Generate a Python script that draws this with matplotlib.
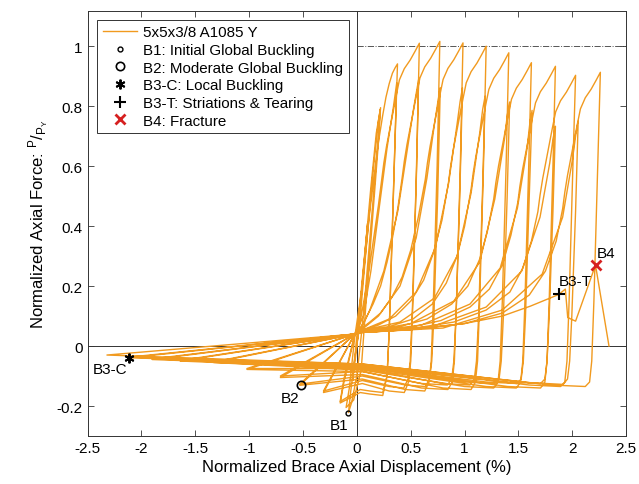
import matplotlib
matplotlib.use("Agg")
import matplotlib.pyplot as plt

# brace hysteresis (displacement %, normalized force)
# one line per half-cycle path: tension reload -> peak, then unload -> compression tip
disp = [
    0.00, 0.10, -0.04, 0.00,
    0.06, 0.13, 0.18, 0.22, 0.20, 0.13, 0.06, 0.00, -0.05, -0.078,
    -0.06, -0.02, 0.02, 0.08, 0.15, 0.20, 0.217, 0.20, 0.14, 0.08, 0.04, -0.03, -0.10,
    # 0.377
    -0.07, -0.02, 0.05, 0.12, 0.20, 0.24, 0.27, 0.30, 0.33, 0.355, 0.377,
    0.36, 0.33, 0.30, 0.28, 0.24, 0.12, 0.03, -0.155,
    -0.12, -0.02, 0.06, 0.13, 0.21, 0.28, 0.34, 0.357, 0.37,
    0.355, 0.33, 0.30, 0.28, 0.24, 0.12, 0.03, -0.155,
    # 0.58
    -0.12, -0.02, 0.03, 0.08, 0.12, 0.16, 0.20,
    0.23, 0.25, 0.275, 0.305, 0.335, 0.365, 0.395, 0.44, 0.495, 0.54, 0.58,
    0.555, 0.52, 0.50, 0.48, 0.44, 0.30, 0.05, -0.31,
    -0.02, 0.03, 0.12, 0.25, 0.38, 0.47, 0.53, 0.555, 0.573,
    0.55, 0.515, 0.495, 0.475, 0.435, 0.30, 0.05, -0.31,
    # 0.77
    -0.02, 0.03, 0.08, 0.15, 0.22, 0.28, 0.33, 0.38,
    0.42, 0.44, 0.465, 0.495, 0.525, 0.555, 0.585, 0.63, 0.685, 0.73, 0.77,
    0.745, 0.71, 0.69, 0.67, 0.63, 0.45, 0.05, -0.53,
    -0.02, 0.03, 0.20, 0.40, 0.55, 0.65, 0.72, 0.752, 0.774,
    0.75, 0.715, 0.695, 0.675, 0.635, 0.45, 0.05, -0.53,
    # 0.985
    -0.02, 0.03, 0.12, 0.22, 0.32, 0.42, 0.50, 0.57,
    0.635, 0.655, 0.68, 0.71, 0.74, 0.77, 0.80, 0.845, 0.90, 0.945, 0.985,
    0.96, 0.925, 0.905, 0.885, 0.845, 0.60, 0.05, -0.71,
    -0.02, 0.03, 0.30, 0.55, 0.73, 0.85, 0.93, 0.958, 0.98,
    0.955, 0.92, 0.90, 0.88, 0.84, 0.60, 0.05, -0.71,
    # 1.2
    -0.02, 0.03, 0.20, 0.36, 0.50, 0.62, 0.71, 0.79,
    0.85, 0.87, 0.895, 0.925, 0.955, 0.985, 1.015, 1.06, 1.115, 1.16, 1.20,
    1.175, 1.14, 1.12, 1.10, 1.06, 0.80, 0.05, -1.02,
    -0.02, 0.03, 0.40, 0.72, 0.93, 1.06, 1.14, 1.168, 1.19,
    1.165, 1.13, 1.11, 1.09, 1.05, 0.80, 0.05, -1.02,
    # 1.41
    -0.02, 0.03, 0.30, 0.52, 0.70, 0.83, 0.93, 1.00,
    1.06, 1.08, 1.105, 1.135, 1.165, 1.195, 1.225, 1.27, 1.325, 1.37, 1.41,
    1.385, 1.35, 1.33, 1.31, 1.27, 1.00, 0.05, -1.33,
    -0.02, 0.03, 0.50, 0.90, 1.14, 1.28, 1.37, 1.396, 1.418,
    1.395, 1.36, 1.34, 1.32, 1.28, 1.00, 0.05, -1.33,
    # 1.62
    -0.02, 0.03, 0.35, 0.65, 0.88, 1.03, 1.14, 1.21,
    1.27, 1.29, 1.315, 1.345, 1.375, 1.405, 1.435, 1.48, 1.535, 1.58, 1.62,
    1.595, 1.56, 1.54, 1.52, 1.48, 1.20, 0.05, -1.64,
    -0.02, 0.03, 0.60, 1.05, 1.33, 1.49, 1.58, 1.605, 1.626,
    1.60, 1.565, 1.545, 1.525, 1.485, 1.20, 0.05, -1.64,
    # 1.84
    -0.02, 0.03, 0.40, 0.78, 1.05, 1.23, 1.35, 1.43,
    1.493, 1.513, 1.538, 1.568, 1.598, 1.628, 1.658, 1.703, 1.758, 1.803, 1.843,
    1.82, 1.785, 1.765, 1.745, 1.705, 1.40, 0.05, -1.90,
    -0.02, 0.03, 0.70, 1.20, 1.53, 1.70, 1.79, 1.82, 1.843,
    1.82, 1.785, 1.765, 1.745, 1.705, 1.40, 0.05, -1.90,
    # 2.03
    -0.02, 0.03, 0.45, 0.90, 1.20, 1.42, 1.54, 1.62,
    1.68, 1.70, 1.725, 1.755, 1.785, 1.815, 1.845, 1.89, 1.945, 1.99, 2.03,
    2.005, 1.97, 1.95, 1.93, 1.89, 1.60, 0.05, -2.115,
    -0.02, 0.03, 0.80, 1.35, 1.72, 1.91, 2.00, 2.032, 2.054,
    2.03, 1.995, 1.975, 1.955, 1.915, 1.60, 0.05, -2.115,
    # 2.26
    -0.02, 0.03, 0.50, 1.00, 1.35, 1.60, 1.75, 1.85,
    1.91, 1.93, 1.955, 1.985, 2.015, 2.045, 2.075, 2.12, 2.175, 2.22, 2.26,
    2.235, 2.20, 2.18, 2.16, 2.12, 1.80, 0.05, -2.32,
    # tearing and fracture
    -0.02, 0.03, 0.50, 1.00, 1.35, 1.61, 1.874, 1.935, 1.957, 2.03, 2.215, 2.34,
]
force = [
    0.00, 0.41, -0.115, 0.00,
    0.25, 0.53, 0.71, 0.795, 0.70, 0.40, 0.10, -0.10, -0.19, -0.222,
    -0.16, -0.04, 0.05, 0.30, 0.58, 0.75, 0.789, 0.68, 0.40, 0.12, -0.08, -0.18, -0.205,
    # 0.377
    -0.14, 0.03, 0.20, 0.45, 0.68, 0.77, 0.83, 0.875, 0.91, 0.928, 0.941,
    0.75, 0.40, 0.05, -0.10, -0.165, -0.16, -0.155, -0.19,
    -0.12, 0.035, 0.10, 0.25, 0.47, 0.66, 0.80, 0.845, 0.878,
    0.70, 0.40, 0.05, -0.10, -0.155, -0.15, -0.145, -0.185,
    # 0.58
    -0.11, 0.04, 0.08, 0.18, 0.27, 0.37, 0.47,
    0.555, 0.61, 0.666, 0.722, 0.777, 0.835, 0.888, 0.925, 0.954, 0.983, 1.01,
    0.60, 0.15, -0.05, -0.12, -0.155, -0.15, -0.125, -0.155,
    0.04, 0.05, 0.12, 0.25, 0.45, 0.66, 0.80, 0.852, 0.889,
    0.55, 0.12, -0.05, -0.11, -0.14, -0.135, -0.115, -0.15,
    # 0.77
    0.04, 0.06, 0.09, 0.14, 0.20, 0.28, 0.36, 0.46,
    0.561, 0.616, 0.672, 0.728, 0.783, 0.841, 0.894, 0.931, 0.96, 0.989, 1.016,
    0.60, 0.15, -0.05, -0.12, -0.15, -0.145, -0.11, -0.131,
    0.04, 0.05, 0.10, 0.20, 0.36, 0.56, 0.74, 0.815, 0.861,
    0.50, 0.10, -0.05, -0.11, -0.135, -0.13, -0.10, -0.127,
    # 0.985
    0.04, 0.055, 0.08, 0.11, 0.16, 0.23, 0.32, 0.43,
    0.556, 0.611, 0.667, 0.723, 0.778, 0.836, 0.889, 0.926, 0.955, 0.984, 1.011,
    0.60, 0.15, -0.05, -0.12, -0.145, -0.14, -0.095, -0.105,
    0.04, 0.05, 0.09, 0.18, 0.33, 0.54, 0.74, 0.815, 0.861,
    0.50, 0.10, -0.05, -0.11, -0.13, -0.125, -0.085, -0.10,
    # 1.2
    0.04, 0.05, 0.07, 0.10, 0.15, 0.22, 0.31, 0.42,
    0.545, 0.60, 0.656, 0.712, 0.767, 0.825, 0.878, 0.915, 0.944, 0.973, 1.00,
    0.60, 0.15, -0.05, -0.12, -0.145, -0.14, -0.085, -0.078,
    0.04, 0.05, 0.08, 0.16, 0.30, 0.51, 0.71, 0.79, 0.833,
    0.50, 0.10, -0.05, -0.11, -0.13, -0.125, -0.075, -0.075,
    # 1.41
    0.04, 0.05, 0.065, 0.09, 0.14, 0.21, 0.30, 0.40,
    0.523, 0.578, 0.634, 0.69, 0.745, 0.803, 0.856, 0.893, 0.922, 0.951, 0.978,
    0.60, 0.15, -0.05, -0.12, -0.14, -0.135, -0.08, -0.055,
    0.04, 0.045, 0.075, 0.15, 0.28, 0.49, 0.69, 0.77, 0.814,
    0.50, 0.10, -0.05, -0.11, -0.125, -0.12, -0.07, -0.053,
    # 1.62
    0.04, 0.05, 0.06, 0.09, 0.14, 0.20, 0.29, 0.38,
    0.49, 0.545, 0.601, 0.657, 0.712, 0.77, 0.823, 0.86, 0.889, 0.918, 0.945,
    0.60, 0.15, -0.05, -0.12, -0.14, -0.135, -0.075, -0.05,
    0.04, 0.045, 0.07, 0.14, 0.26, 0.46, 0.66, 0.742, 0.786,
    0.50, 0.10, -0.05, -0.11, -0.125, -0.12, -0.068, -0.048,
    # 1.84
    0.04, 0.045, 0.055, 0.085, 0.13, 0.19, 0.27, 0.37,
    0.478, 0.533, 0.589, 0.645, 0.70, 0.758, 0.811, 0.848, 0.877, 0.906, 0.933,
    0.60, 0.15, -0.05, -0.12, -0.14, -0.135, -0.07, -0.045,
    0.04, 0.045, 0.065, 0.13, 0.25, 0.43, 0.61, 0.69, 0.733,
    0.45, 0.10, -0.05, -0.11, -0.125, -0.12, -0.065, -0.043,
    # 2.03
    0.04, 0.045, 0.055, 0.08, 0.12, 0.18, 0.26, 0.35,
    0.448, 0.503, 0.559, 0.615, 0.67, 0.728, 0.781, 0.818, 0.847, 0.876, 0.903,
    0.60, 0.15, -0.05, -0.12, -0.135, -0.13, -0.065, -0.039,
    0.04, 0.045, 0.06, 0.12, 0.24, 0.43, 0.62, 0.705, 0.75,
    0.45, 0.10, -0.05, -0.11, -0.128, -0.122, -0.06, -0.037,
    # 2.26
    0.04, 0.045, 0.055, 0.075, 0.11, 0.17, 0.25, 0.35,
    0.458, 0.513, 0.569, 0.625, 0.68, 0.738, 0.791, 0.828, 0.857, 0.886, 0.913,
    0.60, 0.15, -0.05, -0.12, -0.135, -0.13, -0.06, -0.03,
    # tearing and fracture
    0.04, 0.045, 0.055, 0.075, 0.10, 0.133, 0.172, 0.19, 0.095, 0.083, 0.27, 0.00,
]

# damage states
event_names = ["B1: Initial Global Buckling", "B2: Moderate Global Buckling",
               "B3-C: Local Buckling", "B3-T: Striations & Tearing", "B4: Fracture"]
event_tags = ["B1", "B2", "B3-C", "B3-T", "B4"]
event_x = [-0.078, -0.52, -2.115, 1.874, 2.215]
event_y = [-0.222, -0.131, -0.039, 0.172, 0.27]

plt.rcParams.update({"font.family": ["Liberation Sans", "DejaVu Sans"],
                     "mathtext.fontset": "custom",
                     "mathtext.rm": "Liberation Sans",
                     "axes.unicode_minus": False,
                     "xtick.direction": "in", "ytick.direction": "in",
                     "xtick.top": True, "ytick.right": True})

fig = plt.figure(figsize=(6.39, 4.85), dpi=100)
ax = fig.add_axes([0.137, 0.099, 0.843, 0.876])

ORANGE = "#F19A1F"
ax.axhline(0, color="#333333", lw=0.7, zorder=1)
ax.axvline(0, color="#333333", lw=0.7, zorder=1)
ax.plot([0, 2.5], [1, 1], color="#555555", lw=0.7, ls="-.", zorder=1)

ax.plot(disp, force, color=ORANGE, lw=1.0, zorder=2, label="5x5x3/8 A1085 Y")

styles = [dict(marker="o", ms=3.5, mfc="none", mec="black", mew=1.0),
          dict(marker="o", ms=6, mfc="none", mec="black", mew=1.2),
          dict(marker=(6, 2, 0), ms=7, color="black", mew=1.4),
          dict(marker="+", ms=8, color="black", mew=1.5),
          dict(marker="x", ms=7, color="#d62020", mew=2.0)]
for name, x, y, st in zip(event_names, event_x, event_y, styles):
    ax.plot([x], [y], ls="none", zorder=4, label=name, **st)

tag_pos = [(-0.17, -0.264), (-0.62, -0.172), (-2.29, -0.078), (2.03, 0.217), (2.31, 0.311)]
for tag, (tx, ty) in zip(event_tags, tag_pos):
    ax.text(tx, ty, tag, ha="center", va="center", fontsize=11, zorder=5)

ax.set_xlim(-2.5, 2.5)
ax.set_ylim(-0.3, 1.117)
ax.set_xticks([-2.5, -2, -1.5, -1, -0.5, 0, 0.5, 1, 1.5, 2, 2.5])
ax.set_xticklabels(["-2.5", "-2", "-1.5", "-1", "-0.5", "0", "0.5", "1", "1.5", "2", "2.5"])
ax.set_yticks([-0.2, 0, 0.2, 0.4, 0.6, 0.8, 1])
ax.set_yticklabels(["-0.2", "0", "0.2", "0.4", "0.6", "0.8", "1"])
ax.tick_params(labelsize=11, length=4, width=0.6, color="#333333")
for s in ax.spines.values():
    s.set_linewidth(0.7)
    s.set_color("#333333")

ax.set_xlabel("Normalized Brace Axial Displacement (%)", fontsize=12, labelpad=3)
ax.set_ylabel(r"Normalized Axial Force: $\mathregular{^{P}/_{P_{Y}}}$", fontsize=12, labelpad=4)

leg = ax.legend(loc="upper left", bbox_to_anchor=(0.018, 0.979), borderaxespad=0,
                fontsize=10.9, fancybox=False, edgecolor="#333333", framealpha=1,
                handlelength=2.3, handletextpad=0.4, labelspacing=0.24, borderpad=0.35)
leg.get_frame().set_linewidth(0.7)

fig.savefig("out.png", dpi=100, facecolor="white")
